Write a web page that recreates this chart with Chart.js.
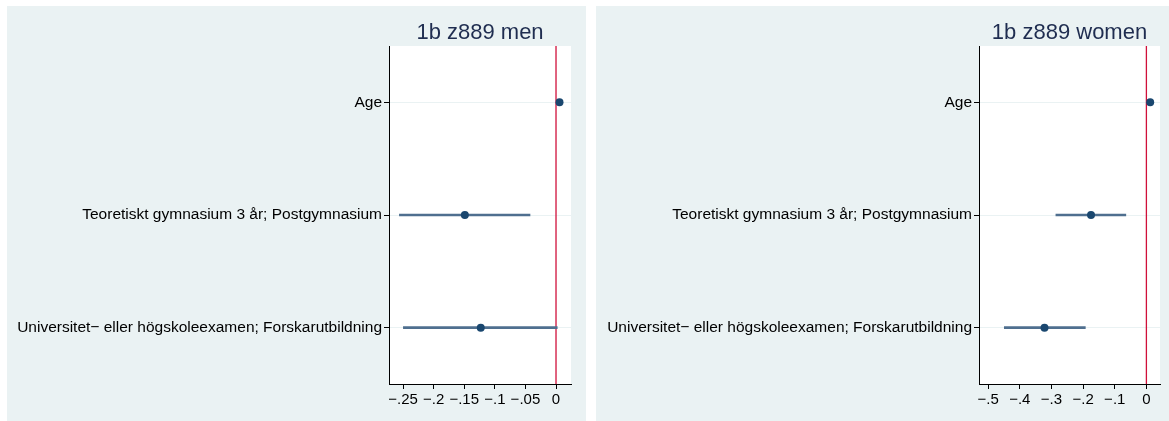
<!DOCTYPE html>
<html>
<head>
<meta charset="utf-8">
<script src="https://cdn.jsdelivr.net/npm/chart.js@4.4.1/dist/chart.umd.min.js"></script>
<style>
  html, body { margin: 0; padding: 0; background: #ffffff; width: 1169px; height: 421px; overflow: hidden; }
  .panel { position: absolute; background: #eaf2f3; }
  #p1 { left: 7px; top: 6px; width: 579px; height: 415px; }
  #p2 { left: 596px; top: 6px; width: 573px; height: 415px; }
</style>
</head>
<body>
<div class="panel" id="p1"><canvas id="c1" width="579" height="415"></canvas></div>
<div class="panel" id="p2"><canvas id="c2" width="573" height="415"></canvas></div>
<script>
// ---- data ----
const categories = ["Age", "Teoretiskt gymnasium 3 år; Postgymnasium", "Universitet− eller högskoleexamen; Forskarutbildning"];

const menTitle = "1b z889 men";
const menEstimate = [0.0057, -0.149, -0.123];
const menLower    = [0.0040, -0.256, -0.2495];
const menUpper    = [0.0074, -0.0425, 0.002];
const menTickValues = [-0.25, -0.2, -0.15, -0.1, -0.05, 0];
const menTickLabels = ["−.25", "−.2", "−.15", "−.1", "−.05", "0"];
const menRange = [-0.273, 0.0245];

const womenTitle = "1b z889 women";
const womenEstimate = [0.012, -0.175, -0.322];
const womenLower    = [0.010, -0.286, -0.449];
const womenUpper    = [0.014, -0.065, -0.193];
const womenTickValues = [-0.5, -0.4, -0.3, -0.2, -0.1, 0];
const womenTickLabels = ["−.5", "−.4", "−.3", "−.2", "−.1", "0"];
const womenRange = [-0.529, 0.043];

// ---- styling ----
const FONT = "'Liberation Sans', Arial, Helvetica, sans-serif";
const POINT_COLOR = "#1a476f";
const CI_COLOR = "#4f6f8f";
const ZERO_COLOR = "#d0103a";
const GRID_COLOR = "#eaf2f3";

const plotBgPlugin = {
  id: 'plotBg',
  beforeDraw(chart) {
    const {ctx, chartArea: a} = chart;
    ctx.save();
    ctx.fillStyle = '#ffffff';
    ctx.fillRect(a.left, a.top, a.right - a.left, a.bottom - a.top);
    ctx.restore();
  }
};

const zeroLinePlugin = {
  id: 'zeroLine',
  beforeDatasetsDraw(chart) {
    const {ctx, chartArea: a, scales} = chart;
    const x = scales.x.getPixelForValue(0);
    ctx.save();
    ctx.strokeStyle = ZERO_COLOR;
    ctx.lineWidth = 1.3;
    ctx.beginPath();
    ctx.moveTo(x, a.top);
    ctx.lineTo(x, a.bottom);
    ctx.stroke();
    ctx.restore();
  }
};

const panelTitlePlugin = {
  id: 'panelTitle',
  afterDraw(chart, args, opts) {
    const {ctx, chartArea: a} = chart;
    ctx.save();
    ctx.fillStyle = '#1f2d50';
    ctx.font = "22px " + FONT;
    ctx.textAlign = 'center';
    ctx.textBaseline = 'alphabetic';
    ctx.fillText(opts.text, (a.left + a.right) / 2, 33);
    ctx.restore();
  }
};

function makeChart(canvasId, title, est, lo, hi, tickVals, tickLabels, range, yWidth, rightPad) {
  const ciData = categories.map((c, i) => [lo[i], hi[i]]);
  const ptData = categories.map((c, i) => ({x: est[i], y: c}));
  return new Chart(document.getElementById(canvasId), {
    type: 'bar',
    data: {
      labels: categories,
      datasets: [
        {
          type: 'scatter',
          data: ptData,
          backgroundColor: POINT_COLOR,
          borderColor: POINT_COLOR,
          pointRadius: 4,
          pointHoverRadius: 4,
          borderWidth: 0,
          order: 0
        },
        {
          type: 'bar',
          data: ciData,
          backgroundColor: CI_COLOR,
          borderWidth: 0,
          barThickness: 2,
          borderSkipped: false,
          order: 1
        }
      ]
    },
    options: {
      indexAxis: 'y',
      responsive: false,
      animation: false,
      devicePixelRatio: 1,
      layout: { padding: { top: 40, right: rightPad, left: 0, bottom: 0 } },
      plugins: {
        legend: { display: false },
        tooltip: { enabled: false },
        title: { display: false },
        panelTitle: { text: title }
      },
      scales: {
        y: {
          type: 'category',
          offset: true,
          grid: {
            offset: false,
            color: GRID_COLOR,
            lineWidth: 1,
            drawOnChartArea: true,
            drawTicks: true,
            tickColor: '#000000',
            tickLength: 5,
            tickWidth: 1
          },
          border: { display: true, color: '#000000', width: 1 },
          ticks: {
            color: '#000000',
            padding: 2,
            autoSkip: false,
            font: { family: FONT, size: 15.5 }
          },
          afterFit(scale) { scale.width = yWidth; }
        },
        x: {
          type: 'linear',
          min: range[0],
          max: range[1],
          afterBuildTicks(scale) { scale.ticks = tickVals.map(v => ({value: v})); },
          grid: {
            drawOnChartArea: false,
            drawTicks: true,
            tickColor: '#000000',
            tickLength: 5,
            tickWidth: 1
          },
          border: { display: true, color: '#000000', width: 1 },
          ticks: {
            color: '#000000',
            padding: 2,
            maxRotation: 0,
            autoSkip: false,
            font: { family: FONT, size: 15 },
            callback(value) {
              const i = tickVals.findIndex(t => Math.abs(t - value) < 1e-9);
              return i >= 0 ? tickLabels[i] : '';
            }
          },
          afterFit(scale) { scale.height = 37; }
        }
      }
    },
    plugins: [plotBgPlugin, zeroLinePlugin, panelTitlePlugin]
  });
}

makeChart('c1', menTitle, menEstimate, menLower, menUpper, menTickValues, menTickLabels, menRange, 382, 15);
makeChart('c2', womenTitle, womenEstimate, womenLower, womenUpper, womenTickValues, womenTickLabels, womenRange, 383, 9);
</script>
</body>
</html>
